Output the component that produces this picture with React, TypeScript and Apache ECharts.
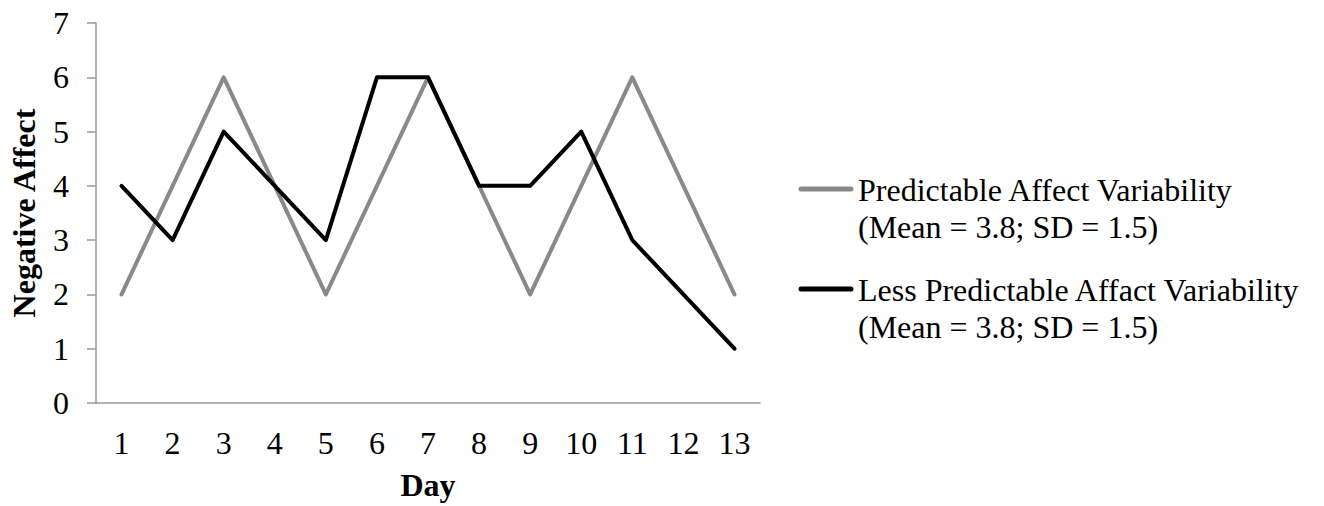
import React, { useEffect, useRef } from "react";
import * as echarts from "echarts";

const days = ["1", "2", "3", "4", "5", "6", "7", "8", "9", "10", "11", "12", "13"];
const predictable = [2, 4, 6, 4, 2, 4, 6, 4, 2, 4, 6, 4, 2];
const lessPredictable = [4, 3, 5, 4, 3, 6, 6, 4, 4, 5, 3, 2, 1];
const seriesNames = ["Predictable Affect Variability", "Less Predictable Affact Variability"];
const seriesSub = ["(Mean = 3.8; SD = 1.5)", "(Mean = 3.8; SD = 1.5)"];
const seriesColors = ["#898989", "#000000"];

const FONT = "'Liberation Serif', 'Times New Roman', serif";

export default function App() {
  const ref = useRef<HTMLDivElement>(null);
  useEffect(() => {
    document.body.style.margin = "0";
    const chart = echarts.init(ref.current!, null, { renderer: "svg" });
    const legendY = [189, 289];
    const graphic: any[] = [];
    seriesNames.forEach((n, i) => {
      graphic.push({
        type: "line",
        shape: { x1: 801, y1: legendY[i], x2: 851, y2: legendY[i] },
        style: { stroke: seriesColors[i], lineWidth: 5, lineCap: "round" },
      });
      graphic.push({
        type: "text",
        x: 858,
        y: legendY[i] + 1,
        style: {
          text: n,
          font: `32px ${FONT}`,
          fill: "#000",
          verticalAlign: "middle",
        },
      });
      graphic.push({
        type: "text",
        x: 858,
        y: legendY[i] + 38,
        style: {
          text: seriesSub[i],
          font: `32px ${FONT}`,
          fill: "#000",
          verticalAlign: "middle",
        },
      });
    });
    chart.setOption({
      animation: false,
      textStyle: { fontFamily: FONT },
      grid: { left: 90, right: 564, top: 23, bottom: 99, containLabel: false },
      xAxis: {
        type: "category",
        data: days,
        boundaryGap: true,
        name: "Day",
        nameLocation: "middle",
        nameGap: 66,
        nameTextStyle: { fontSize: 32, fontWeight: "bold", color: "#000", fontFamily: FONT },
        axisLine: { lineStyle: { color: "#999", width: 1.5 } },
        axisTick: { show: false },
        axisLabel: { fontSize: 32, color: "#000", margin: 24, fontFamily: FONT },
        splitLine: { show: false },
      },
      yAxis: {
        type: "value",
        min: 0,
        max: 7,
        interval: 1,
        name: "Negative Affect",
        nameLocation: "middle",
        nameGap: 56,
        nameRotate: 90,
        nameTextStyle: { fontSize: 32, fontWeight: "bold", color: "#000", fontFamily: FONT },
        axisLine: { show: true, lineStyle: { color: "#999", width: 1.5 } },
        axisTick: { show: true, length: 9, lineStyle: { color: "#999", width: 1.5 } },
        axisLabel: { fontSize: 32, color: "#000", margin: 27, fontFamily: FONT },
        splitLine: { show: false },
      },
      series: [
        {
          name: seriesNames[0],
          type: "line",
          data: predictable,
          symbol: "none",
          lineStyle: { color: seriesColors[0], width: 4, cap: "round", join: "round" },
          z: 2,
        },
        {
          name: seriesNames[1],
          type: "line",
          data: lessPredictable,
          symbol: "none",
          lineStyle: { color: seriesColors[1], width: 4, cap: "round", join: "round" },
          z: 3,
        },
      ],
      graphic,
    });
    return () => chart.dispose();
  }, []);
  return <div ref={ref} style={{ width: 1324, height: 506 }} />;
}
